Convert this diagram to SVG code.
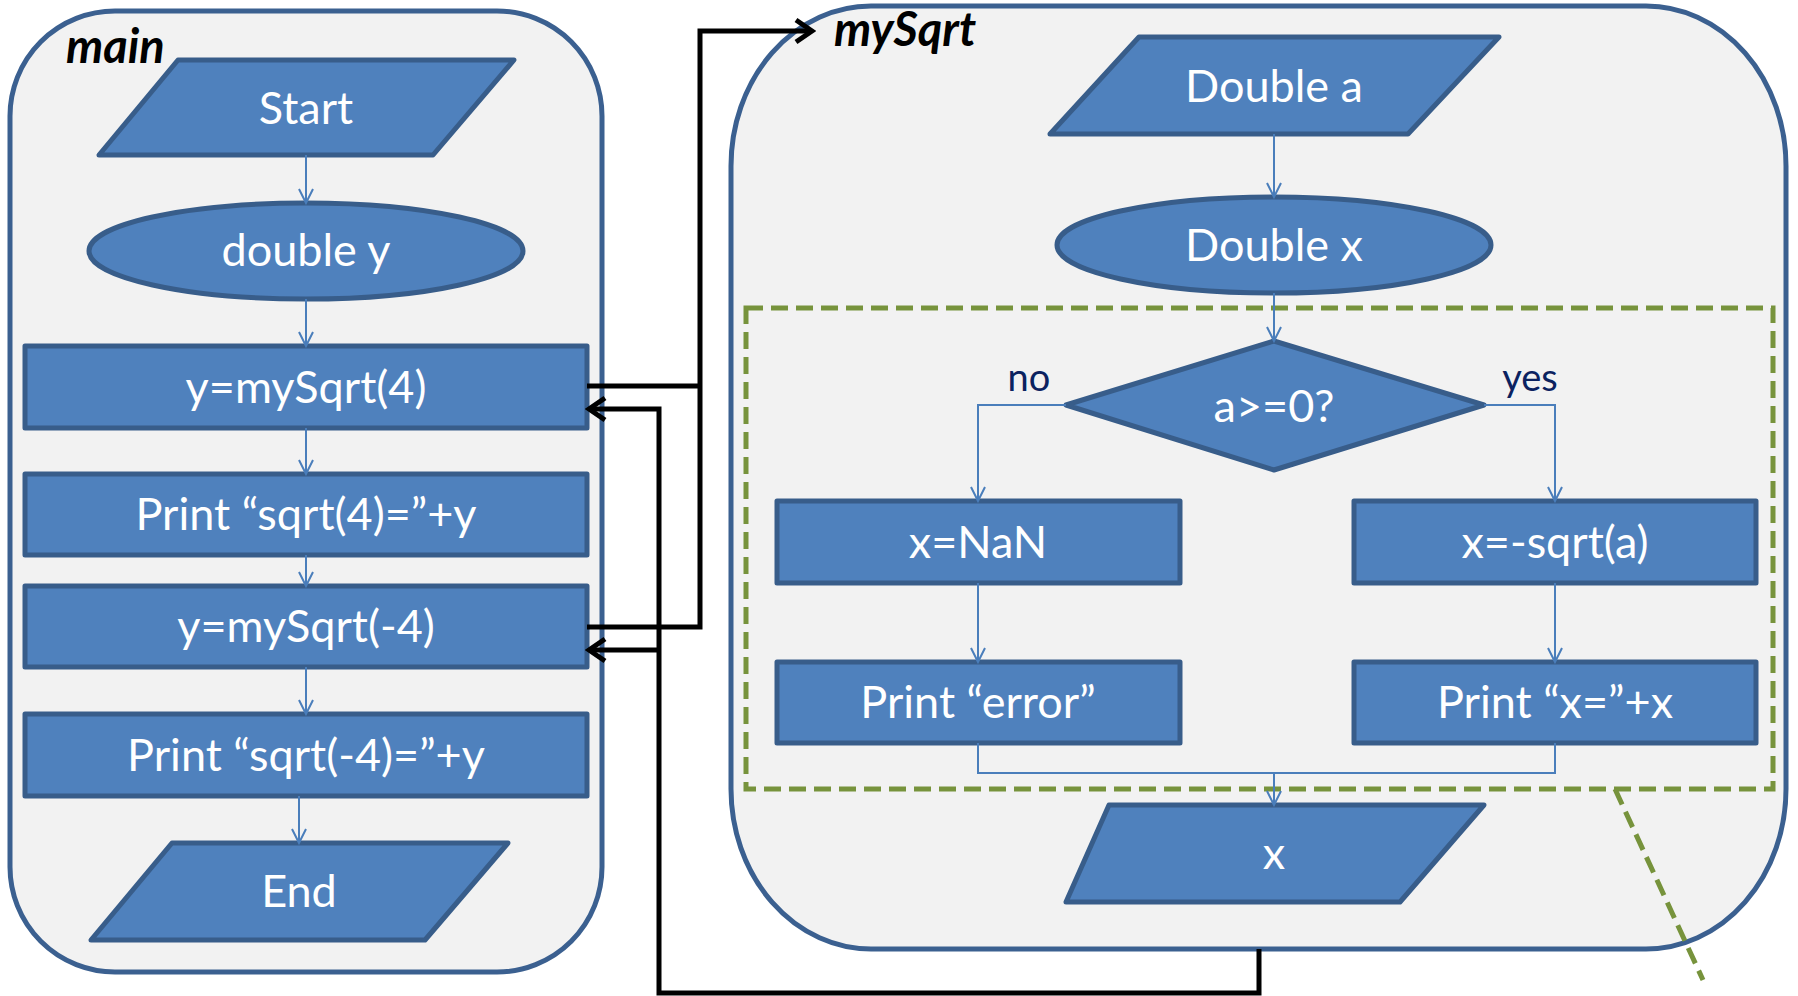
<svg xmlns="http://www.w3.org/2000/svg" width="1798" height="996" viewBox="0 0 1798 996">
<defs>
<style>
.cont{fill:#F2F2F2;stroke:#3B6090;stroke-width:5}
.shape{fill:#4F81BD;stroke:#385D8A;stroke-width:5;stroke-linejoin:round}
.t{font-family:Lato,"Liberation Sans",sans-serif;font-size:45px;fill:#FFFFFF;text-anchor:middle}
.lbl{font-family:Lato,"Liberation Sans",sans-serif;font-size:47px;font-weight:bold;font-style:italic;fill:#000000}
.yn{font-family:Lato,"Liberation Sans",sans-serif;font-size:38px;fill:#0B2260;text-anchor:middle}
.bl{fill:none;stroke:#4A7EBB;stroke-width:2}
.blk{fill:none;stroke:#000000;stroke-width:5;stroke-linejoin:miter}
.grn{fill:none;stroke:#77933C;stroke-width:5;stroke-dasharray:17 8}
</style>
<marker id="ab" markerUnits="userSpaceOnUse" viewBox="-16 -9 18 18" refX="0" refY="0" markerWidth="18" markerHeight="18" orient="auto">
<path d="M-14,-7 L0,0 L-14,7" fill="none" stroke="#4A7EBB" stroke-width="2"/>
</marker>
<marker id="ak" markerUnits="userSpaceOnUse" viewBox="-20 -14 24 28" refX="0" refY="0" markerWidth="24" markerHeight="28" orient="auto">
<path d="M-16,-11 L0,0 L-16,11" fill="none" stroke="#000000" stroke-width="5"/>
</marker>
</defs>
<rect width="1798" height="996" fill="#FFFFFF"/>

<g id="main-container">
<rect class="cont" x="10" y="11" width="592" height="961" rx="105" ry="105"/>
<text class="lbl" x="66" y="63">main</text>
</g>
<g id="mysqrt-container">
<rect class="cont" x="731" y="6" width="1055" height="943" rx="140" ry="160"/>
<text class="lbl" x="834" y="46">mySqrt</text>
</g>

<g id="start"><polygon class="shape" points="178,60 514,60 433,155 99,155"/><text class="t" x="306" y="124">Start</text></g>
<g id="double-y"><ellipse class="shape" cx="306" cy="251" rx="217" ry="48"/><text class="t" x="306" y="266">double y</text></g>
<g id="call4"><rect class="shape" x="25" y="346" width="562" height="82"/><text class="t" x="306" y="403">y=mySqrt(4)</text></g>
<g id="print4"><rect class="shape" x="25" y="474" width="562" height="81"/><text class="t" x="306" y="530">Print “sqrt(4)=”+y</text></g>
<g id="callm4"><rect class="shape" x="25" y="586" width="562" height="81"/><text class="t" x="306" y="642">y=mySqrt(-4)</text></g>
<g id="printm4"><rect class="shape" x="25" y="714" width="562" height="82"/><text class="t" x="306" y="771">Print “sqrt(-4)=”+y</text></g>
<g id="end"><polygon class="shape" points="172,843 508,843 425,940 91,940"/><text class="t" x="299" y="907">End</text></g>

<g id="double-a"><polygon class="shape" points="1139,37 1499,37 1408,134 1050,134"/><text class="t" x="1274" y="102">Double a</text></g>
<g id="double-x"><ellipse class="shape" cx="1274" cy="245" rx="217" ry="48"/><text class="t" x="1274" y="261">Double x</text></g>
<g id="try-block"><rect class="grn" x="746" y="308" width="1027" height="481"/></g>
<g id="cond"><polygon class="shape" points="1274,341 1484,405 1274,470 1066,405"/><text class="t" x="1274" y="422">a&gt;=0?</text></g>
<g id="label-no"><text class="yn" x="1029" y="391">no</text></g>
<g id="label-yes"><text class="yn" x="1530" y="391">yes</text></g>
<g id="nan"><rect class="shape" x="777" y="501" width="403" height="82"/><text class="t" x="978" y="558">x=NaN</text></g>
<g id="sqrt"><rect class="shape" x="1354" y="501" width="402" height="82"/><text class="t" x="1555" y="558">x=-sqrt(a)</text></g>
<g id="perr"><rect class="shape" x="777" y="662" width="403" height="81"/><text class="t" x="978" y="718">Print “error”</text></g>
<g id="px"><rect class="shape" x="1354" y="662" width="402" height="81"/><text class="t" x="1555" y="718">Print “x=”+x</text></g>
<g id="ret-x"><polygon class="shape" points="1109,805 1484,805 1400,902 1066,902"/><text class="t" x="1274" y="869">x</text></g>

<g id="connectors">
<line class="bl" x1="306" y1="155" x2="306" y2="203" marker-end="url(#ab)"/>
<line class="bl" x1="306" y1="299" x2="306" y2="346" marker-end="url(#ab)"/>
<line class="bl" x1="306" y1="428" x2="306" y2="474" marker-end="url(#ab)"/>
<line class="bl" x1="306" y1="555" x2="306" y2="586" marker-end="url(#ab)"/>
<line class="bl" x1="306" y1="667" x2="306" y2="714" marker-end="url(#ab)"/>
<line class="bl" x1="299" y1="796" x2="299" y2="843" marker-end="url(#ab)"/>
<line class="bl" x1="1274" y1="134" x2="1274" y2="197" marker-end="url(#ab)"/>
<line class="bl" x1="1274" y1="293" x2="1274" y2="341" marker-end="url(#ab)"/>
<polyline class="bl" points="1066,405 978,405 978,501" marker-end="url(#ab)"/>
<polyline class="bl" points="1484,405 1555,405 1555,501" marker-end="url(#ab)"/>
<line class="bl" x1="978" y1="583" x2="978" y2="662" marker-end="url(#ab)"/>
<line class="bl" x1="1555" y1="583" x2="1555" y2="662" marker-end="url(#ab)"/>
<polyline class="bl" points="978,743 978,773 1555,773 1555,743"/>
<line class="bl" x1="1274" y1="773" x2="1274" y2="805" marker-end="url(#ab)"/>
<line class="grn" x1="1615" y1="789" x2="1703" y2="980"/>
<polyline class="blk" points="587,386 700,386"/>
<polyline class="blk" points="587,627 700,627 700,31 812,31" marker-end="url(#ak)"/>
<polyline class="blk" points="1259,949 1259,993 659,993 659,409 589,409" marker-end="url(#ak)"/>
<polyline class="blk" points="659,650 589,650" marker-end="url(#ak)"/>
</g>
</svg>
